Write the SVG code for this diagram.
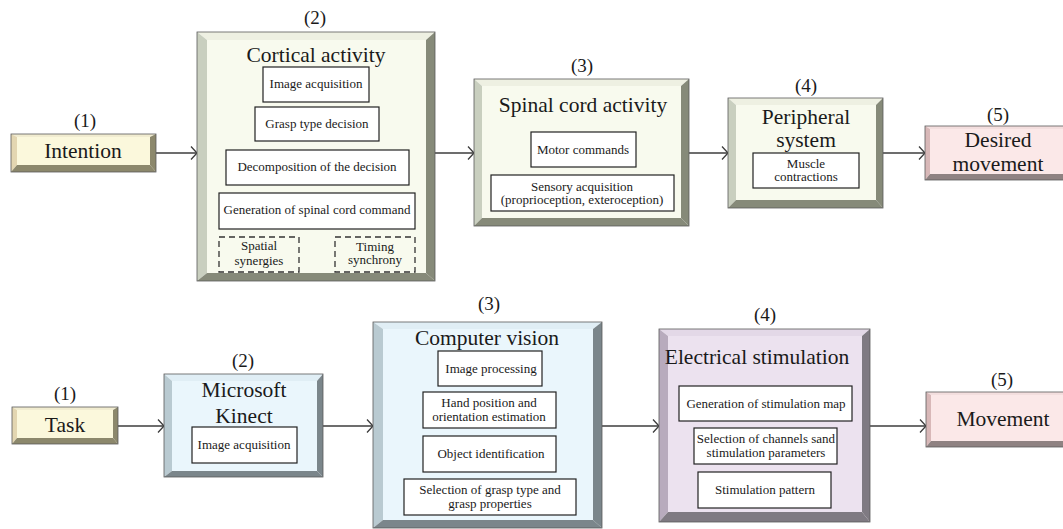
<svg xmlns="http://www.w3.org/2000/svg" width="1063" height="529" viewBox="0 0 1063 529">
<defs>
<style>
text{font-family:"Liberation Serif","Times New Roman",serif;fill:#1a1a1a;text-anchor:middle}
.big{font-size:21.5px}
.num{font-size:19px}
.sm{font-size:13px}
.edge{stroke:#5a5a5a;stroke-width:0.8}
.inner{fill:#ffffff;stroke:#222;stroke-width:1.2}
.dash{fill:none;stroke:#333;stroke-width:1.3;stroke-dasharray:6,4}
.conn{stroke:#3c3c3c;stroke-width:1.3;fill:none;marker-end:url(#arr)}
.yF{fill:#fbf8dc}.yT{fill:#f1ecd0}.yL{fill:#e3d6b1}.yD{fill:#8c886c}
.gF{fill:#f8faee}.gT{fill:#eef0e2}.gL{fill:#c9cfbf}.gD{fill:#868a79}
.pF{fill:#fbe8e8}.pT{fill:#f3dede}.pL{fill:#d8b8b8}.pD{fill:#8f8282}
.bF{fill:#eaf6fc}.bT{fill:#e0eef5}.bL{fill:#b9cad1}.bD{fill:#7b868b}
.vF{fill:#ece2ef}.vT{fill:#e3d8e7}.vL{fill:#b8abbd}.vD{fill:#7f7a82}
</style>
<marker id="arr" markerWidth="10" markerHeight="16" refX="8" refY="8" orient="auto" markerUnits="userSpaceOnUse">
<path d="M2,1.5 L8,8 L2,14.5" fill="none" stroke="#3c3c3c" stroke-width="1.3"/>
</marker>
</defs>
<rect width="1063" height="529" fill="#ffffff"/>

<g id="connectors">
<line class="conn" x1="156" y1="153" x2="197" y2="153"/>
<line class="conn" x1="435" y1="153" x2="474" y2="153"/>
<line class="conn" x1="689" y1="153" x2="728" y2="153"/>
<line class="conn" x1="883" y1="153" x2="925" y2="153"/>
<line class="conn" x1="118" y1="426" x2="164" y2="426"/>
<line class="conn" x1="323" y1="426" x2="373" y2="426"/>
<line class="conn" x1="602" y1="426" x2="659" y2="426"/>
<line class="conn" x1="870" y1="426" x2="926" y2="426"/>
</g>

<!-- Top row -->
<g id="intention">
<text class="num" x="85" y="127">(1)</text>
<polygon class="yT" points="11,134 156,134 150,137 17,137"/>
<polygon class="yL" points="11,134 17,137 17,165 11,172"/>
<polygon class="yD" points="156,134 156,172 150,165 150,137"/>
<polygon class="yD" points="11,172 17,165 150,165 156,172"/>
<rect class="yF" x="17" y="137" width="133" height="28"/>
<rect class="edge" x="11" y="134" width="145" height="38" fill="none"/>
<text class="big" x="83" y="158">Intention</text>
</g>

<g id="cortical">
<text class="num" x="315" y="24">(2)</text>
<polygon class="gT" points="197,32 435,32 426,40 207,40"/>
<polygon class="gL" points="197,32 207,40 207,273 197,281"/>
<polygon class="gD" points="435,32 435,281 426,273 426,40"/>
<polygon class="gD" points="197,281 207,273 426,273 435,281"/>
<rect class="gF" x="207" y="40" width="219" height="233"/>
<rect class="edge" x="197" y="32" width="238" height="249" fill="none"/>
<text class="big" x="316" y="62">Cortical activity</text>
<rect class="inner" x="263" y="67" width="106" height="35"/>
<text class="sm" x="316" y="88">Image acquisition</text>
<rect class="inner" x="255" y="107" width="124" height="34"/>
<text class="sm" x="317" y="128">Grasp type decision</text>
<rect class="inner" x="226" y="150" width="183" height="35"/>
<text class="sm" x="317" y="171">Decomposition of the decision</text>
<rect class="inner" x="219" y="193" width="196" height="36"/>
<text class="sm" x="317" y="214">Generation of spinal cord command</text>
<rect class="dash" x="219" y="237" width="80" height="35"/>
<text class="sm" x="259" y="250">Spatial</text>
<text class="sm" x="259" y="265">synergies</text>
<rect class="dash" x="335" y="237" width="80" height="35"/>
<text class="sm" x="375" y="251">Timing</text>
<text class="sm" x="375" y="264">synchrony</text>
</g>

<g id="spinal">
<text class="num" x="582" y="72">(3)</text>
<polygon class="gT" points="474,79 689,79 681,86 482,86"/>
<polygon class="gL" points="474,79 482,86 482,218 474,226"/>
<polygon class="gD" points="689,79 689,226 681,218 681,86"/>
<polygon class="gD" points="474,226 482,218 681,218 689,226"/>
<rect class="gF" x="482" y="86" width="199" height="132"/>
<rect class="edge" x="474" y="79" width="215" height="147" fill="none"/>
<text class="big" x="583" y="112">Spinal cord activity</text>
<rect class="inner" x="531" y="132" width="105" height="35"/>
<text class="sm" x="583" y="154">Motor commands</text>
<rect class="inner" x="491" y="175" width="183" height="36"/>
<text class="sm" x="582" y="191">Sensory acquisition</text>
<text class="sm" x="582" y="204">(proprioception, exteroception)</text>
</g>

<g id="peripheral">
<text class="num" x="806" y="92">(4)</text>
<polygon class="gT" points="728,98 883,98 876,105 736,105"/>
<polygon class="gL" points="728,98 736,105 736,200 728,208"/>
<polygon class="gD" points="883,98 883,208 876,200 876,105"/>
<polygon class="gD" points="728,208 736,200 876,200 883,208"/>
<rect class="gF" x="736" y="105" width="140" height="95"/>
<rect class="edge" x="728" y="98" width="155" height="110" fill="none"/>
<text class="big" x="806" y="124">Peripheral</text>
<text class="big" x="806" y="147">system</text>
<rect class="inner" x="753" y="153" width="106" height="35"/>
<text class="sm" x="806" y="168">Muscle</text>
<text class="sm" x="806" y="181">contractions</text>
</g>

<g id="desired">
<text class="num" x="998" y="121">(5)</text>
<polygon class="pT" points="925,126 1070,126 1070,129 930,129"/>
<polygon class="pL" points="925,126 930,129 930,174 925,180"/>
<polygon class="pD" points="925,180 930,174 1070,174 1070,180"/>
<rect class="pF" x="930" y="129" width="140" height="45"/>
<rect class="edge" x="925" y="126" width="145" height="54" fill="none"/>
<text class="big" x="998" y="147">Desired</text>
<text class="big" x="998" y="171">movement</text>
</g>

<!-- Bottom row -->
<g id="task">
<text class="num" x="65" y="400">(1)</text>
<polygon class="yT" points="12,407 118,407 113,410 17,410"/>
<polygon class="yL" points="12,407 17,410 17,438 12,444"/>
<polygon class="yD" points="118,407 118,444 113,438 113,410"/>
<polygon class="yD" points="12,444 17,438 113,438 118,444"/>
<rect class="yF" x="17" y="410" width="96" height="28"/>
<rect class="edge" x="12" y="407" width="106" height="37" fill="none"/>
<text class="big" x="65" y="432">Task</text>
</g>

<g id="kinect">
<text class="num" x="243" y="367">(2)</text>
<polygon class="bT" points="164,374 323,374 317,381 172,381"/>
<polygon class="bL" points="164,374 172,381 172,471 164,477"/>
<polygon class="bD" points="323,374 323,477 317,471 317,381"/>
<polygon class="bD" points="164,477 172,471 317,471 323,477"/>
<rect class="bF" x="172" y="381" width="145" height="90"/>
<rect class="edge" x="164" y="374" width="159" height="103" fill="none"/>
<text class="big" x="244" y="397">Microsoft</text>
<text class="big" x="244" y="423">Kinect</text>
<rect class="inner" x="192" y="427" width="105" height="36"/>
<text class="sm" x="244" y="449">Image acquisition</text>
</g>

<g id="vision">
<text class="num" x="489" y="310">(3)</text>
<polygon class="bT" points="373,322 602,322 593,329 383,329"/>
<polygon class="bL" points="373,322 383,329 383,520 373,528"/>
<polygon class="bD" points="602,322 602,528 593,520 593,329"/>
<polygon class="bD" points="373,528 383,520 593,520 602,528"/>
<rect class="bF" x="383" y="329" width="210" height="191"/>
<rect class="edge" x="373" y="322" width="229" height="206" fill="none"/>
<text class="big" x="487" y="345">Computer vision</text>
<rect class="inner" x="438" y="351" width="104" height="35"/>
<text class="sm" x="491" y="373">Image processing</text>
<rect class="inner" x="423" y="392" width="133" height="36"/>
<text class="sm" x="489" y="407">Hand position and</text>
<text class="sm" x="489" y="421">orientation estimation</text>
<rect class="inner" x="423" y="436" width="133" height="36"/>
<text class="sm" x="491" y="458">Object identification</text>
<rect class="inner" x="404" y="479" width="172" height="36"/>
<text class="sm" x="490" y="494">Selection of grasp type and</text>
<text class="sm" x="490" y="508">grasp properties</text>
</g>

<g id="stimulation">
<text class="num" x="765" y="321">(4)</text>
<polygon class="vT" points="659,329 870,329 862,336 668,336"/>
<polygon class="vL" points="659,329 668,336 668,512 659,522"/>
<polygon class="vD" points="870,329 870,522 862,512 862,336"/>
<polygon class="vD" points="659,522 668,512 862,512 870,522"/>
<rect class="vF" x="668" y="336" width="194" height="176"/>
<rect class="edge" x="659" y="329" width="211" height="193" fill="none"/>
<text class="big" x="757" y="364">Electrical stimulation</text>
<rect class="inner" x="679" y="386" width="173" height="35"/>
<text class="sm" x="766" y="408">Generation of stimulation map</text>
<rect class="inner" x="694" y="428" width="143" height="36"/>
<text class="sm" x="766" y="443">Selection of channels sand</text>
<text class="sm" x="766" y="457">stimulation parameters</text>
<rect class="inner" x="698" y="472" width="133" height="36"/>
<text class="sm" x="765" y="494">Stimulation pattern</text>
</g>

<g id="movement">
<text class="num" x="1002" y="386">(5)</text>
<polygon class="pT" points="926,392 1070,392 1070,395 931,395"/>
<polygon class="pL" points="926,392 931,395 931,441 926,447"/>
<polygon class="pD" points="926,447 931,441 1070,441 1070,447"/>
<rect class="pF" x="931" y="395" width="139" height="46"/>
<rect class="edge" x="926" y="392" width="144" height="55" fill="none"/>
<text class="big" x="1003" y="426">Movement</text>
</g>
</svg>
